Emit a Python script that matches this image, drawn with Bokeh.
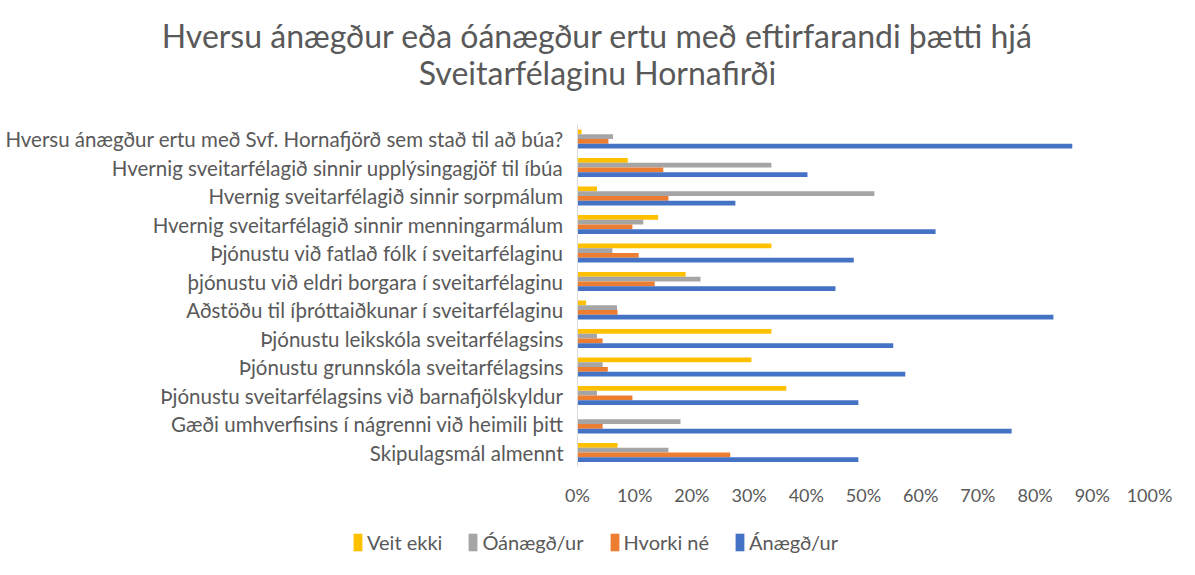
from bokeh.plotting import figure
from bokeh.models import (ColumnDataSource, Range1d, FixedTicker, LinearAxis,
                          NumeralTickFormatter, Legend, LegendItem, Label)
from bokeh.transform import dodge
from bokeh.embed import file_html
from bokeh.resources import INLINE

categories = [
    "Hversu ánægður ertu með Svf. Hornafjörð sem stað til að búa?",
    "Hvernig sveitarfélagið sinnir upplýsingagjöf til íbúa",
    "Hvernig sveitarfélagið sinnir sorpmálum",
    "Hvernig sveitarfélagið sinnir menningarmálum",
    "Þjónustu við fatlað fólk í sveitarfélaginu",
    "þjónustu við eldri borgara í sveitarfélaginu",
    "Aðstöðu til íþróttaiðkunar í sveitarfélaginu",
    "Þjónustu leikskóla sveitarfélagsins",
    "Þjónustu grunnskóla sveitarfélagsins",
    "Þjónustu sveitarfélagsins við barnafjölskyldur",
    "Gæði umhverfisins í nágrenni við heimili þitt",
    "Skipulagsmál almennt",
]
veit_ekki = [0.7, 8.8, 3.4, 14.1, 33.9, 18.9, 1.5, 33.9, 30.4, 36.5, 0.0, 7.0]
oanaegd = [6.2, 33.9, 51.9, 11.5, 6.1, 21.5, 6.9, 3.4, 4.4, 3.4, 18.0, 15.9]
hvorki = [5.4, 15.0, 15.9, 9.6, 10.7, 13.5, 7.0, 4.4, 5.3, 9.6, 4.4, 26.7]
anaegd = [86.5, 40.2, 27.6, 62.6, 48.3, 45.1, 83.2, 55.2, 57.3, 49.1, 75.9, 49.1]
series_names = ["Veit ekki", "Óánægð/ur", "Hvorki né", "Ánægð/ur"]
x_ticks = [0, 0.1, 0.2, 0.3, 0.4, 0.5, 0.6, 0.7, 0.8, 0.9, 1.0]

title_lines = ["Hversu ánægður eða óánægður ertu með eftirfarandi þætti hjá",
               "Sveitarfélaginu Hornafirði"]

FONT = "Lato"
TXT = "#595959"
colors = ["#FFC000", "#A5A5A5", "#ED7D31", "#4472C4"]
offsets = [-0.25, -0.0833, 0.0833, 0.25]

# ---- layout constants (pixels on the canvas) ----
W, H = 1195, 575
X0_PX, X1_PX = 577, 1149        # 0% and 100%
Y0_PX, DY_PX = 138.5, 28.5      # first category centre, category spacing


def px_x(px):
    return (px - X0_PX) / (X1_PX - X0_PX)


def px_y(px):
    return (px - Y0_PX) / DY_PX


n = len(categories)
idx = list(range(n))

src = ColumnDataSource(dict(
    idx=idx,
    s0=[v / 100 for v in veit_ekki],
    s1=[v / 100 for v in oanaegd],
    s2=[v / 100 for v in hvorki],
    s3=[v / 100 for v in anaegd],
))

p = figure(width=W, height=H,
           x_range=Range1d(px_x(0), px_x(W)),
           y_range=Range1d(px_y(H), px_y(0)),
           x_axis_location=None, y_axis_location=None,
           output_backend="svg", toolbar_location=None, min_border=0)
p.outline_line_color = None
p.grid.visible = False

renderers = []
for i, key in enumerate(["s0", "s1", "s2", "s3"]):
    r = p.hbar(y=dodge("idx", offsets[i]), right=key, left=0,
               height=0.1667, source=src, fill_color=colors[i], line_color=None)
    renderers.append(r)

# category axis (at 0 %)
ya = LinearAxis(fixed_location=0, ticker=FixedTicker(ticks=idx),
                major_label_overrides={i: c for i, c in enumerate(categories)},
                bounds=(-0.5, n - 0.5))
ya.axis_line_color = "#D9D9D9"
ya.major_tick_line_color = None
ya.minor_tick_line_color = None
ya.major_tick_out = 0
ya.major_tick_in = 0
ya.major_label_standoff = 14
ya.major_label_text_font = FONT
ya.major_label_text_font_size = "20.5px"
ya.major_label_text_color = TXT
p.add_layout(ya, "left")

# value axis (below the last category)
xa = LinearAxis(fixed_location=n - 0.5, ticker=FixedTicker(ticks=x_ticks),
                formatter=NumeralTickFormatter(format="0%"))
xa.axis_line_color = None
xa.major_tick_line_color = None
xa.minor_tick_line_color = None
xa.major_tick_out = 0
xa.major_tick_in = 0
xa.major_label_standoff = 17
xa.major_label_text_font = FONT
xa.major_label_text_font_size = "18px"
xa.major_label_text_color = TXT
p.add_layout(xa, "below")

# title
for line, ypx in zip(title_lines, [35, 72]):
    p.add_layout(Label(x=px_x(597), y=px_y(ypx), text=line,
                       text_align="center", text_baseline="middle",
                       text_font=FONT, text_font_size="32px", text_color=TXT))

legend = Legend(items=[LegendItem(label=series_names[i], renderers=[renderers[i]])
                       for i in range(4)],
                orientation="horizontal", location=(352, 21),
                padding=0, margin=0, spacing=25, label_standoff=4,
                glyph_width=11, glyph_height=22,
                label_text_font=FONT, label_text_font_size="20px",
                label_text_color=TXT, background_fill_alpha=0,
                border_line_color=None)
p.add_layout(legend)

open("out.html", "w").write(file_html(p, INLINE))
